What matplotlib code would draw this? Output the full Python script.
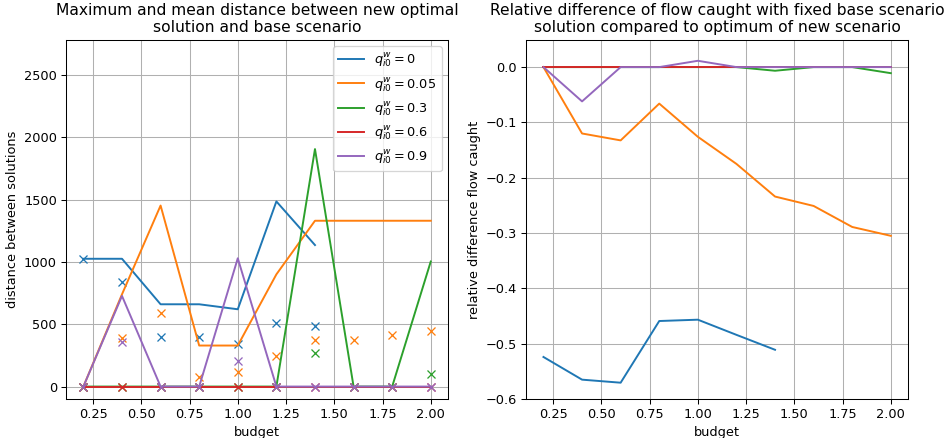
import matplotlib
matplotlib.use('Agg')
import matplotlib.pyplot as plt
import numpy as np

# ---------------------------------------------------------------------------
# Data
# ---------------------------------------------------------------------------
budget = [0.2, 0.4, 0.6, 0.8, 1.0, 1.2, 1.4, 1.6, 1.8, 2.0]
q_labels = ['0', '0.05', '0.3', '0.6', '0.9']

# maximum distance between solutions (lines)
max_dist = [
    [1025, 1025, 660, 660, 620, 1485, 1135],
    [0, 740, 1452, 329, 329, 900, 1330, 1330, 1330, 1330],
    [0, 0, 0, 0, 0, 0, 1905, 0, 0, 1003],
    [0, 0, 0, 0, 0, 0, 0, 0, 0, 0],
    [0, 727, 0, 0, 1029, 0, 0, 0, 0, 0],
]
# mean distance between solutions (crosses)
mean_dist = [
    [1025, 840, 398, 398, 342, 508, 489],
    [0, 388, 591, 80, 115, 249, 372, 377, 417, 447],
    [0, 0, 0, 0, 0, 0, 273, 0, 0, 99],
    [0, 0, 0, 0, 0, 0, 0, 0, 0, 0],
    [0, 361, 0, 0, 206, 0, 0, 0, 0, 0],
]
# relative difference of flow caught
rel_diff = [
    [-0.524, -0.565, -0.5705, -0.459, -0.4566, -0.484, -0.511],
    [0, -0.120, -0.1325, -0.066, -0.126, -0.175, -0.234, -0.251, -0.289, -0.305],
    [0, 0, 0, 0, 0, 0, -0.0066, 0, 0, -0.011],
    [0, 0, 0, 0, 0, 0, 0, 0, 0, 0],
    [0, -0.062, 0, 0, 0.0114, 0, 0, 0, 0, 0],
]

DPI = 93


def main():
    fig, (ax_l, ax_r) = plt.subplots(1, 2, figsize=(950 / DPI, 438 / DPI), dpi=DPI)
    fig.subplots_adjust(left=0.0695, right=0.956, top=0.9087, bottom=0.089,
                        wspace=0.204)

    for i, q in enumerate(q_labels):
        color = f'C{i}'
        n = len(max_dist[i])
        ax_l.plot(budget[:n], max_dist[i], color=color,
                  label=rf'$q_{{i0}}^w = {q}$')
        ax_l.plot(budget[:len(mean_dist[i])], mean_dist[i], 'x', color=color)
        ax_r.plot(budget[:len(rel_diff[i])], rel_diff[i], color=color)

    ax_l.set_title('Maximum and mean distance between new optimal\n'
                   'solution and base scenario', fontsize=12)
    ax_l.set_xlabel('budget')
    ax_l.set_ylabel('distance between solutions')
    ax_l.set_ylim(-100, 2780)
    ax_l.set_yticks([0, 500, 1000, 1500, 2000, 2500])
    ax_l.grid(True)
    ax_l.legend(loc='upper right', fontsize=10)

    ax_r.set_title('Relative difference of flow caught with fixed base scenario\n'
                   'solution compared to optimum of new scenario', fontsize=12)
    ax_r.set_xlabel('budget')
    ax_r.set_ylabel('relative difference flow caught')
    ax_r.set_ylim(-0.6, 0.049)
    ax_r.grid(True)

    fig.savefig('out.png', dpi=DPI)
    plt.close()


if __name__ == '__main__':
    main()
